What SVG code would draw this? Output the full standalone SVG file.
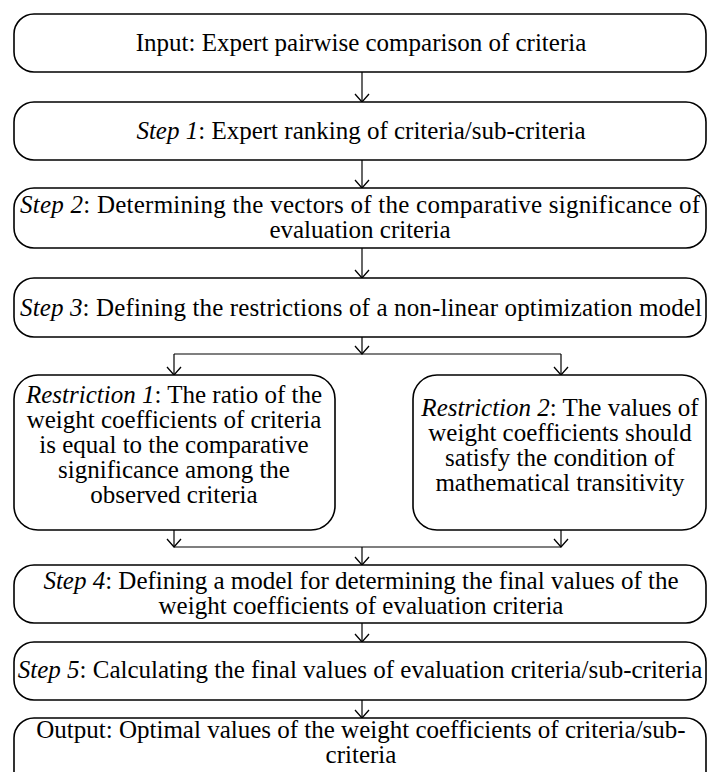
<svg xmlns="http://www.w3.org/2000/svg" width="707" height="772" viewBox="0 0 707 772">
<style>
.box{fill:#fff;stroke:#000;stroke-width:1.6}
.t{font-family:'Liberation Serif','Times New Roman',Times,serif;font-size:25px;fill:#000;text-anchor:middle}
.i{font-style:italic}
.c{fill:none;stroke:#000;stroke-width:1.2}
</style>
<defs>
<marker id="arr" markerUnits="userSpaceOnUse" markerWidth="12" markerHeight="16" refX="9" refY="8" orient="auto" viewBox="0 0 12 16">
<path d="M1,1 L9,8 L1,15" fill="none" stroke="#000" stroke-width="1.3"/>
</marker>
</defs>
<rect width="707" height="772" fill="#fff"/>
<g id="connectors">
<line class="c" x1="362" y1="72" x2="362" y2="102" marker-end="url(#arr)"/>
<line class="c" x1="362" y1="160" x2="362" y2="188" marker-end="url(#arr)"/>
<line class="c" x1="362" y1="248" x2="362" y2="278" marker-end="url(#arr)"/>
<line class="c" x1="362" y1="337" x2="362" y2="354" marker-end="url(#arr)"/>
<line class="c" x1="174" y1="354" x2="561" y2="354"/>
<line class="c" x1="174" y1="354" x2="174" y2="375" marker-end="url(#arr)"/>
<line class="c" x1="561" y1="354" x2="561" y2="375" marker-end="url(#arr)"/>
<line class="c" x1="174" y1="530" x2="174" y2="547" marker-end="url(#arr)"/>
<line class="c" x1="561" y1="530" x2="561" y2="547" marker-end="url(#arr)"/>
<line class="c" x1="174" y1="547" x2="561" y2="547"/>
<line class="c" x1="362" y1="547" x2="362" y2="565" marker-end="url(#arr)"/>
<line class="c" x1="362" y1="623" x2="362" y2="642" marker-end="url(#arr)"/>
<line class="c" x1="362" y1="700" x2="362" y2="718" marker-end="url(#arr)"/>
</g>
<g id="input">
<rect class="box" x="14" y="14" width="692" height="58" rx="20"/>
<text class="t" x="361" y="51">Input: Expert pairwise comparison of criteria</text>
</g>
<g id="step1">
<rect class="box" x="14" y="102" width="692" height="58" rx="20"/>
<text class="t" x="361" y="139"><tspan class="i">Step 1</tspan>: Expert ranking of criteria/sub-criteria</text>
</g>
<g id="step2">
<rect class="box" x="14" y="188" width="692" height="60" rx="20"/>
<text class="t" x="360" y="213" textLength="680" lengthAdjust="spacing"><tspan class="i">Step 2</tspan>: Determining the vectors of the comparative significance of</text>
<text class="t" x="360" y="238">evaluation criteria</text>
</g>
<g id="step3">
<rect class="box" x="14" y="278" width="692" height="59" rx="20"/>
<text class="t" x="361" y="316" textLength="682" lengthAdjust="spacing"><tspan class="i">Step 3</tspan>: Defining the restrictions of a non-linear optimization model</text>
</g>
<g id="restriction1">
<rect class="box" x="14" y="375" width="321" height="155" rx="24"/>
<text class="t" x="174" y="403"><tspan class="i">Restriction 1</tspan>: The ratio of the</text>
<text class="t" x="174" y="428">weight coefficients of criteria</text>
<text class="t" x="174" y="453">is equal to the comparative</text>
<text class="t" x="174" y="478">significance among the</text>
<text class="t" x="174" y="503">observed criteria</text>
</g>
<g id="restriction2">
<rect class="box" x="413" y="375" width="293" height="155" rx="24"/>
<text class="t" x="560" y="416"><tspan class="i">Restriction 2</tspan>: The values of</text>
<text class="t" x="560" y="441">weight coefficients should</text>
<text class="t" x="560" y="466">satisfy the condition of</text>
<text class="t" x="560" y="491">mathematical transitivity</text>
</g>
<g id="step4">
<rect class="box" x="14" y="565" width="692" height="58" rx="20"/>
<text class="t" x="361" y="589"><tspan class="i">Step 4</tspan>: Defining a model for determining the final values of the</text>
<text class="t" x="361" y="614">weight coefficients of evaluation criteria</text>
</g>
<g id="step5">
<rect class="box" x="14" y="642" width="692" height="58" rx="20"/>
<text class="t" x="360" y="678"><tspan class="i">Step 5</tspan>: Calculating the final values of evaluation criteria/sub-criteria</text>
</g>
<g id="output">
<rect class="box" x="14" y="718" width="692" height="80" rx="20"/>
<text class="t" x="361" y="738">Output: Optimal values of the weight coefficients of criteria/sub-</text>
<text class="t" x="361" y="763">criteria</text>
</g>
</svg>
